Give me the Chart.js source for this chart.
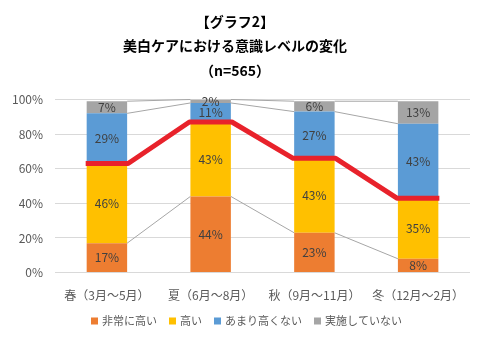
<!DOCTYPE html>
<html>
<head>
<meta charset="utf-8">
<script src="https://cdn.jsdelivr.net/npm/chart.js@4"></script>
<style>
  body { margin: 0; background: #fff; }
  #wrap { width: 485px; height: 342px; }
</style>
</head>
<body>
<div id="wrap"><canvas id="myChart" width="485" height="342"></canvas></div>
<script>
const seasons = ['春（3月～5月）', '夏（6月～8月）', '秋（9月～11月）', '冬（12月～2月）'];
const veryHigh = [17, 44, 23, 8];
const high = [46, 43, 43, 35];
const notSoHigh = [29, 11, 27, 43];
const notDoing = [7, 2, 6, 13];
const yTicks = [0, 20, 40, 60, 80, 100];

const FONT = "'Noto Sans CJK JP', 'Noto Sans', sans-serif";
Chart.defaults.font.family = FONT;
Chart.defaults.color = '#595959';

// lines between neighbouring bars at the top of each segment
const seriesLines = {
    id: 'seriesLines',
    afterDatasetsDraw(chart) {
        const ctx = chart.ctx;
        chart.data.datasets.forEach((ds, i) => {
            const bars = chart.getDatasetMeta(i).data;
            ctx.save();
            if (i === 1) {
                // 高い の上端は赤い太線
                ctx.strokeStyle = '#E8222B';
                ctx.lineWidth = 5;
                ctx.lineJoin = 'round';
                ctx.beginPath();
                bars.forEach((b, j) => {
                    const half = b.width / 2 + 1;
                    if (j === 0) ctx.moveTo(b.x - half, b.y);
                    else ctx.lineTo(b.x - half, b.y);
                    ctx.lineTo(b.x + half, b.y);
                });
                ctx.stroke();
            } else {
                ctx.strokeStyle = '#A6A6A6';
                ctx.lineWidth = 1;
                ctx.beginPath();
                for (let j = 0; j < bars.length - 1; j++) {
                    const a = bars[j], b = bars[j + 1];
                    ctx.moveTo(a.x + a.width / 2, a.y);
                    ctx.lineTo(b.x - b.width / 2, b.y);
                }
                ctx.stroke();
            }
            ctx.restore();
        });
    }
};

// percent labels in the middle of each segment
const barLabels = {
    id: 'barLabels',
    afterDraw(chart) {
        const ctx = chart.ctx;
        ctx.save();
        ctx.font = '12px ' + FONT;
        ctx.fillStyle = '#404040';
        ctx.textAlign = 'center';
        ctx.textBaseline = 'middle';
        chart.data.datasets.forEach((ds, i) => {
            chart.getDatasetMeta(i).data.forEach((b, j) => {
                ctx.fillText(ds.data[j] + '%', b.x, (b.y + b.base) / 2);
            });
        });
        ctx.restore();
    }
};

// one-row legend under the axis labels
const bottomLegend = {
    id: 'bottomLegend',
    afterDraw(chart) {
        const ctx = chart.ctx;
        const box = 7, gapText = 4, gapItem = 12, y = 321;
        ctx.save();
        ctx.font = '11px ' + FONT;
        ctx.textBaseline = 'middle';
        const items = chart.data.datasets.map(ds => ({
            text: ds.label, color: ds.backgroundColor, w: ctx.measureText(ds.label).width
        }));
        const total = items.reduce((s, it) => s + box + gapText + it.w, 0) + gapItem * (items.length - 1);
        let x = chart.width / 2 + 4 - total / 2;
        items.forEach(it => {
            ctx.fillStyle = it.color;
            ctx.fillRect(x, y - box / 2, box, box);
            x += box + gapText;
            ctx.fillStyle = '#595959';
            ctx.fillText(it.text, x, y);
            x += it.w + gapItem;
        });
        ctx.restore();
    }
};

new Chart(document.getElementById('myChart'), {
    type: 'bar',
    data: {
        labels: seasons,
        datasets: [
            { label: '非常に高い', data: veryHigh, backgroundColor: '#ED7D31' },
            { label: '高い', data: high, backgroundColor: '#FFC000' },
            { label: 'あまり高くない', data: notSoHigh, backgroundColor: '#5B9BD5' },
            { label: '実施していない', data: notDoing, backgroundColor: '#A5A5A5' }
        ]
    },
    options: {
        responsive: false,
        animation: false,
        layout: { padding: { left: 0, right: 15, top: 0, bottom: 31 } },
        datasets: {
            bar: { barPercentage: 0.39, categoryPercentage: 1 }
        },
        plugins: {
            title: {
                display: true,
                text: ['【グラフ2】', '美白ケアにおける意識レベルの変化', '（n=565）'],
                color: '#000',
                font: { size: 14, weight: 'bold', lineHeight: 1.75 },
                padding: { top: 9, bottom: 17 }
            },
            legend: { display: false },
            tooltip: { enabled: false }
        },
        scales: {
            x: {
                stacked: true,
                grid: { display: false },
                border: { display: false },
                ticks: { padding: 8, font: { size: 12 }, maxRotation: 0 }
            },
            y: {
                stacked: true,
                min: 0,
                max: 100,
                afterBuildTicks: axis => { axis.ticks = yTicks.map(v => ({ value: v })); },
                grid: { color: '#D9D9D9', drawTicks: false },
                border: { display: false },
                ticks: { padding: 12, font: { size: 12 }, callback: v => v + '%' }
            }
        }
    },
    plugins: [seriesLines, barLabels, bottomLegend]
});
</script>
</body>
</html>
